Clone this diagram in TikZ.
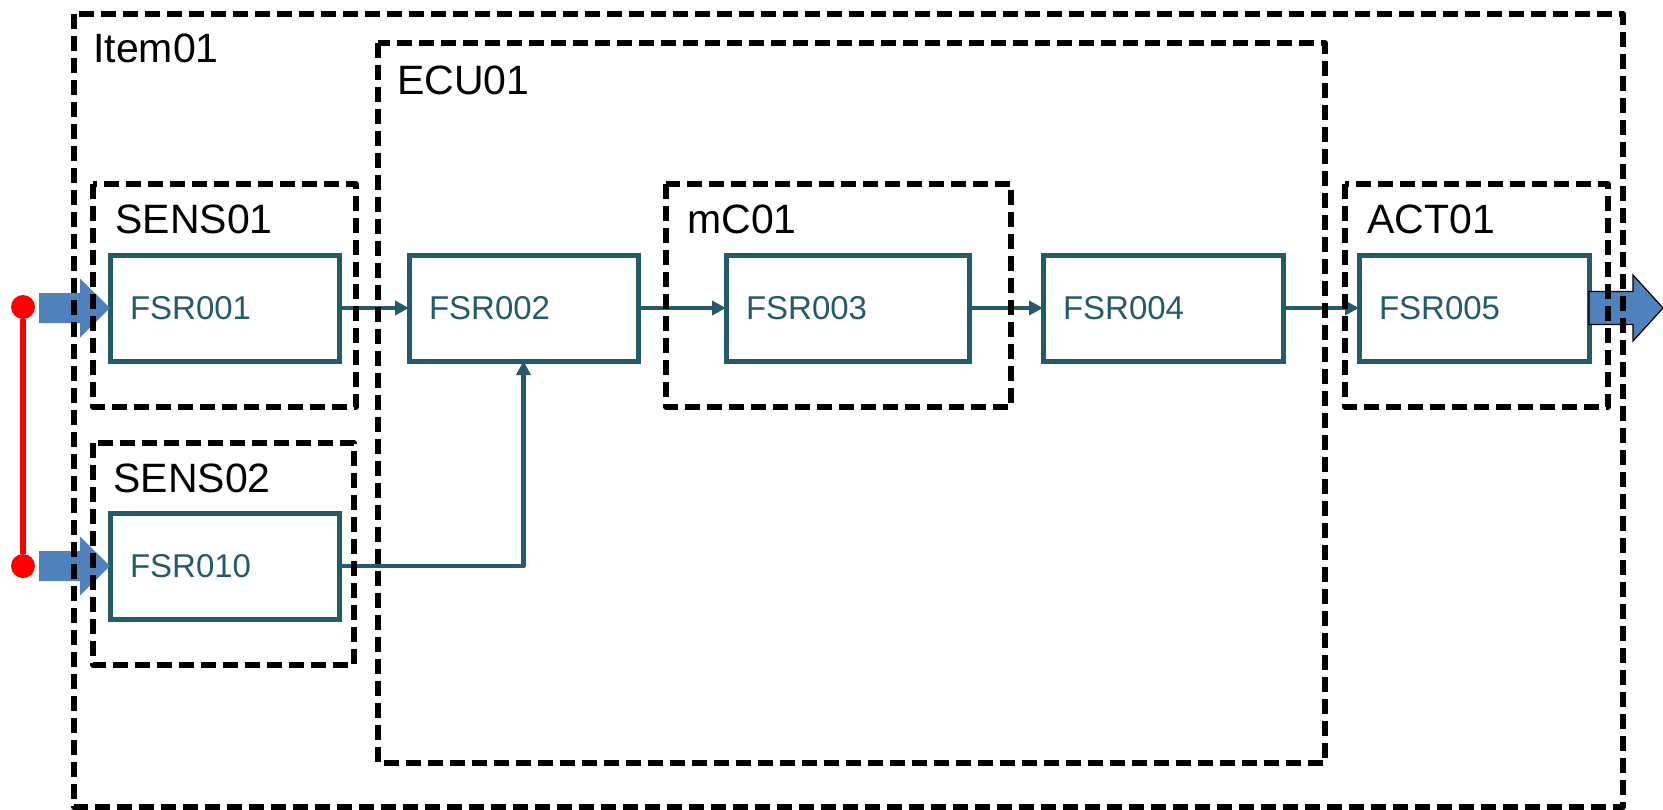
\documentclass[tikz,border=0pt]{standalone}
\usepackage{fontspec}
\setmainfont{Liberation Sans}
\usetikzlibrary{arrows.meta}
\definecolor{fsrteal}{HTML}{245B6B}
\definecolor{flowblue}{HTML}{4F81BD}

\begin{document}
\begin{tikzpicture}[x=.5pt,y=-.5pt,
  fsr/.style={draw=fsrteal, line width=2.5pt, text=fsrteal,
    font=\fontsize{16.5}{18}\selectfont, minimum height=53pt,
    inner xsep=10pt, inner ysep=0pt, outer sep=0pt, text width=#1, align=left},
  grp/.style={draw, line width=2.7pt, dash pattern=on 7.5pt off 3.5pt, line join=round},
  grplabel/.style={anchor=base west, inner sep=0pt, font=\fontsize{20.5}{24}\selectfont},
  flow/.style={draw=fsrteal, line width=2.3pt, line join=round, -{Triangle[length=7pt,width=7pt]}},
  fat/.style={fill=flowblue},
  dot/.style={circle, fill=red, inner sep=0pt, minimum size=12pt}]
\useasboundingbox (0,0) rectangle (1663,809);

% requirement boxes
\node[fsr=94.5pt] (f1) at (224.5,308) {FSR001};
\node[fsr=94.5pt] (f10) at (224.5,566) {FSR010};
\node[fsr=94.5pt] (f2) at (523.5,308) {FSR002};
\node[fsr=101.5pt] (f3) at (847.5,308) {FSR003};
\node[fsr=100pt] (f4) at (1163,308) {FSR004};
\node[fsr=95pt] (f5) at (1474,308) {FSR005};

\draw[flow] (f1.east) -- (f2.west);
\draw[flow] (f2.east) -- (f3.west);
\draw[flow] (f3.east) -- (f4.west);
\draw[flow] (f4.east) -- (f5.west);
\draw[flow] (f10.east) -| (f2.south);

% inputs and output
\fill[fat] (f1.west) -- ++(-30,-29.5) -- ++(0,14.5) -- ++(-41,0) -- ++(0,30)
  -- ++(41,0) -- ++(0,14.5) -- cycle;
\fill[fat] (f10.west) -- ++(-30,-29.5) -- ++(0,14.5) -- ++(-41,0) -- ++(0,30)
  -- ++(41,0) -- ++(0,14.5) -- cycle;
\filldraw[fat, draw=black, line width=.6pt] (f5.east) ++(0,-16.5) -- ++(44,0)
  -- ++(0,-16.5) -- ++(30,33) -- ++(-30,33) -- ++(0,-16.5) -- ++(-44,0) -- cycle;

\node[dot] (d1) at (23,307) {};
\node[dot] (d2) at (23,566) {};
\draw[red, line width=3pt] (d1) -- (d2);

% architecture elements
\draw[grp] (74,14) rectangle (1623,807);
\node[grplabel] (item) at (93,62) {Item01};
\draw[grp] (378,43) rectangle (1325,763);
\node[grplabel] (ecu) at (397,94) {ECU01};
\draw[grp] (93,184) rectangle (356,407);
\node[grplabel] (sens1) at (115,233) {SENS01};
\draw[grp] (93,443) rectangle (354,665);
\node[grplabel] (sens2) at (113,492) {SENS02};
\draw[grp] (666,184) rectangle (1011,407);
\node[grplabel] (mc) at (687,233) {mC01};
\draw[grp] (1345,184) rectangle (1608,407);
\node[grplabel] (act) at (1367,233) {ACT01};
\end{tikzpicture}
\end{document}
